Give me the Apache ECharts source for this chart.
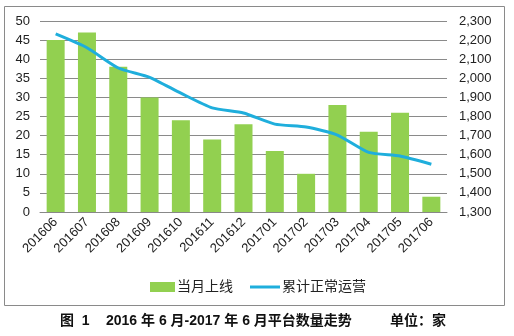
<!DOCTYPE html>
<html><head><meta charset="utf-8">
<script src="https://cdn.jsdelivr.net/npm/echarts@6/dist/echarts.min.js"></script>
<style>html,body{margin:0;padding:0;background:#fff;}#c{width:514px;height:336px;}</style>
</head><body><div id="c"></div>
<script>
var categories = ['201606','201607','201608','201609','201610','201611','201612','201701','201702','201703','201704','201705','201706'];
var monthlyOnline = [45, 47, 38, 30, 24, 19, 23, 16, 10, 28, 21, 26, 4];
var cumulativeNormal = [2232, 2160, 2054, 2005, 1922, 1845, 1818, 1760, 1745, 1703, 1612, 1593, 1550];
var leftTicks = [0, 50, 5];
var rightTicks = [1300, 2300, 100];
var seriesNames = ['当月上线', '累计正常运营'];
var captionParts = ['图  1', '2016 年 6 月-2017 年 6 月平台数量走势', '单位：家'];

var chart = echarts.init(document.getElementById('c'));
var font = '"Liberation Sans", "Noto Sans CJK SC", sans-serif';
var legendText = { fontFamily: font, fontSize: 14, color: '#222', padding: [0, 0, 0, -3] };
var capStyle = { fontFamily: font, fontSize: 14, fontWeight: 'bold', fill: '#111' };
chart.setOption({
  animation: false,
  backgroundColor: '#fff',
  grid: { left: 40, right: 67, top: 21, bottom: 124, containLabel: false },
  legend: [
    {
      data: [{ name: seriesNames[0], icon: 'rect' }],
      top: 275, left: 145,
      itemWidth: 25, itemHeight: 10,
      textStyle: legendText
    },
    {
      data: [{ name: seriesNames[1], icon: 'rect' }],
      top: 275, left: 245,
      itemWidth: 30, itemHeight: 3,
      textStyle: legendText
    }
  ],
  xAxis: {
    type: 'category',
    data: categories,
    axisTick: { show: false },
    axisLine: { lineStyle: { color: '#888' } },
    axisLabel: { rotate: 45, fontFamily: font, fontSize: 13, color: '#222', margin: 8, interval: 0 }
  },
  yAxis: [
    {
      type: 'value', min: leftTicks[0], max: leftTicks[1], interval: leftTicks[2],
      axisLine: { show: false }, axisTick: { show: false },
      splitLine: { lineStyle: { color: '#8a8a8a', width: 1 } },
      axisLabel: { fontFamily: font, fontSize: 13, color: '#222', margin: 10 }
    },
    {
      type: 'value', min: rightTicks[0], max: rightTicks[1], interval: rightTicks[2],
      axisLine: { show: false }, axisTick: { show: false },
      splitLine: { show: false },
      axisLabel: { fontFamily: font, fontSize: 13, color: '#222', margin: 12,
        formatter: function (v) { return v.toLocaleString('en-US'); } }
    }
  ],
  series: [
    {
      name: seriesNames[0], type: 'bar', data: monthlyOnline, yAxisIndex: 0,
      barWidth: 18, itemStyle: { color: '#92D050' }
    },
    {
      name: seriesNames[1], type: 'line', data: cumulativeNormal, yAxisIndex: 1,
      smooth: 0.2, symbol: 'none',
      lineStyle: { color: '#1FAEDC', width: 3 }, itemStyle: { color: '#1FAEDC' }
    }
  ],
  graphic: [
    { type: 'rect', shape: { x: 4.5, y: 6.5, width: 500, height: 299 },
      style: { fill: null, stroke: '#8a8a8a', lineWidth: 1 }, silent: true },
    { type: 'text', left: 60, top: 314, style: Object.assign({ text: captionParts[0] }, capStyle) },
    { type: 'text', left: 106, top: 314, style: Object.assign({ text: captionParts[1] }, capStyle) },
    { type: 'text', left: 390, top: 314, style: Object.assign({ text: captionParts[2] }, capStyle) }
  ]
});
</script></body></html>
